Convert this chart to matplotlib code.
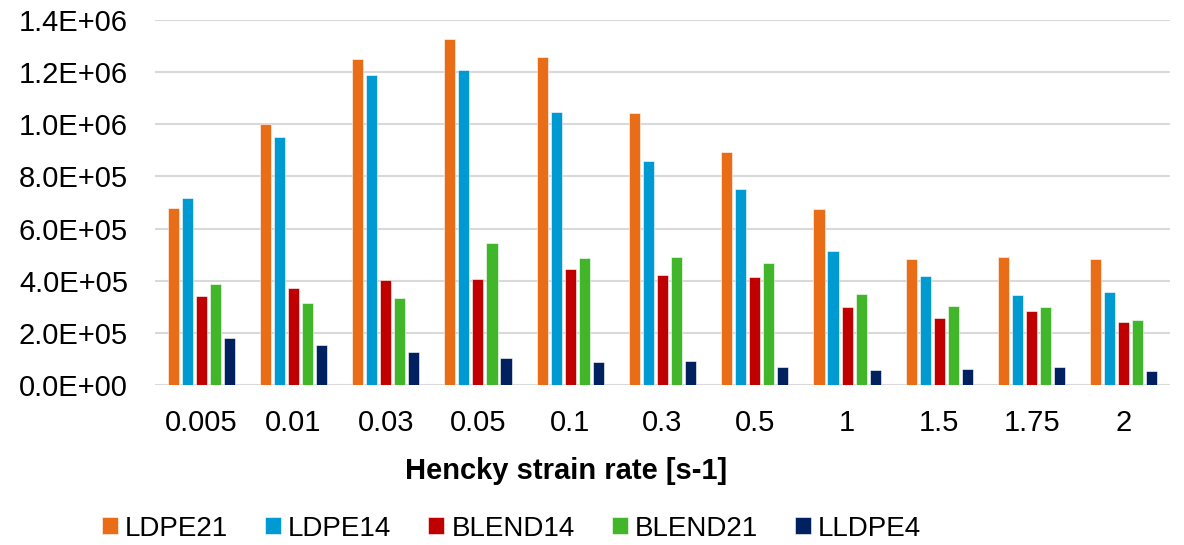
import numpy as np
import matplotlib
matplotlib.use('Agg')
import matplotlib.pyplot as plt

plt.rcParams['font.family'] = ['Liberation Sans', 'DejaVu Sans']

rates = ['0.005', '0.01', '0.03', '0.05', '0.1', '0.3', '0.5', '1', '1.5', '1.75', '2']
ldpe21 = [6.77e5, 1.0e6, 1.25e6, 1.328e6, 1.257e6, 1.043e6, 8.95e5, 6.76e5, 4.83e5, 4.9e5, 4.85e5]
ldpe14 = [7.17e5, 9.5e5, 1.19e6, 1.209e6, 1.048e6, 8.58e5, 7.53e5, 5.15e5, 4.17e5, 3.44e5, 3.58e5]
blend14 = [3.4e5, 3.72e5, 4.03e5, 4.05e5, 4.44e5, 4.21e5, 4.13e5, 3.0e5, 2.56e5, 2.83e5, 2.4e5]
blend21 = [3.87e5, 3.13e5, 3.34e5, 5.43e5, 4.86e5, 4.92e5, 4.67e5, 3.49e5, 3.04e5, 2.98e5, 2.5e5]
lldpe4 = [1.79e5, 1.52e5, 1.25e5, 1.02e5, 8.8e4, 9.1e4, 6.8e4, 5.6e4, 6.3e4, 7.0e4, 5.2e4]
ytick_labels = ['0.0E+00', '2.0E+05', '4.0E+05', '6.0E+05', '8.0E+05',
                '1.0E+06', '1.2E+06', '1.4E+06']

series = [('LDPE21', ldpe21, '#E96C17'),
          ('LDPE14', ldpe14, '#009AD2'),
          ('BLEND14', blend14, '#C00000'),
          ('BLEND21', blend21, '#41B62A'),
          ('LLDPE4', lldpe4, '#002060')]

fig = plt.figure(figsize=(11.84, 5.45), dpi=100)
ax = fig.add_axes([155 / 1184, 1 - 385 / 545, 1015 / 1184, 365 / 545])

x = np.arange(len(rates))
step = 0.152
width = 0.12
for i, (name, vals, col) in enumerate(series):
    ax.bar(x + (i - 2) * step, vals, width=width, color=col, label=name,
           edgecolor='white', linewidth=0.4, zorder=3)

ax.set_xlim(-0.5, len(rates) - 0.5)
ax.set_ylim(0, 1.4e6)
ax.set_yticks(np.arange(len(ytick_labels)) * 2e5)
ax.set_yticklabels(ytick_labels)
ax.set_xticks(x)
ax.set_xticklabels(rates)
ax.tick_params(axis='both', length=0, labelsize=21, colors='#000000')
ax.tick_params(axis='x', pad=17)
ax.tick_params(axis='y', pad=19.5)
ax.grid(axis='y', color='#D9D9D9', linewidth=1.5, zorder=0)
for s in ax.spines.values():
    s.set_visible(False)

# axis title sits left of the plot centre in the original
fig.text(566 / 1184, 1 - 479 / 545, 'Hencky strain rate [s-1]', fontsize=21,
         fontweight='bold', ha='center', va='baseline')

fig.legend(loc='center', bbox_to_anchor=(511.5 / 1184, 1 - 528.5 / 545), ncol=5,
           frameon=False, fontsize=20, handlelength=0.575, handleheight=0.575,
           handletextpad=0.25, columnspacing=1.33, borderpad=0)

fig.savefig('out.png', dpi=100)
